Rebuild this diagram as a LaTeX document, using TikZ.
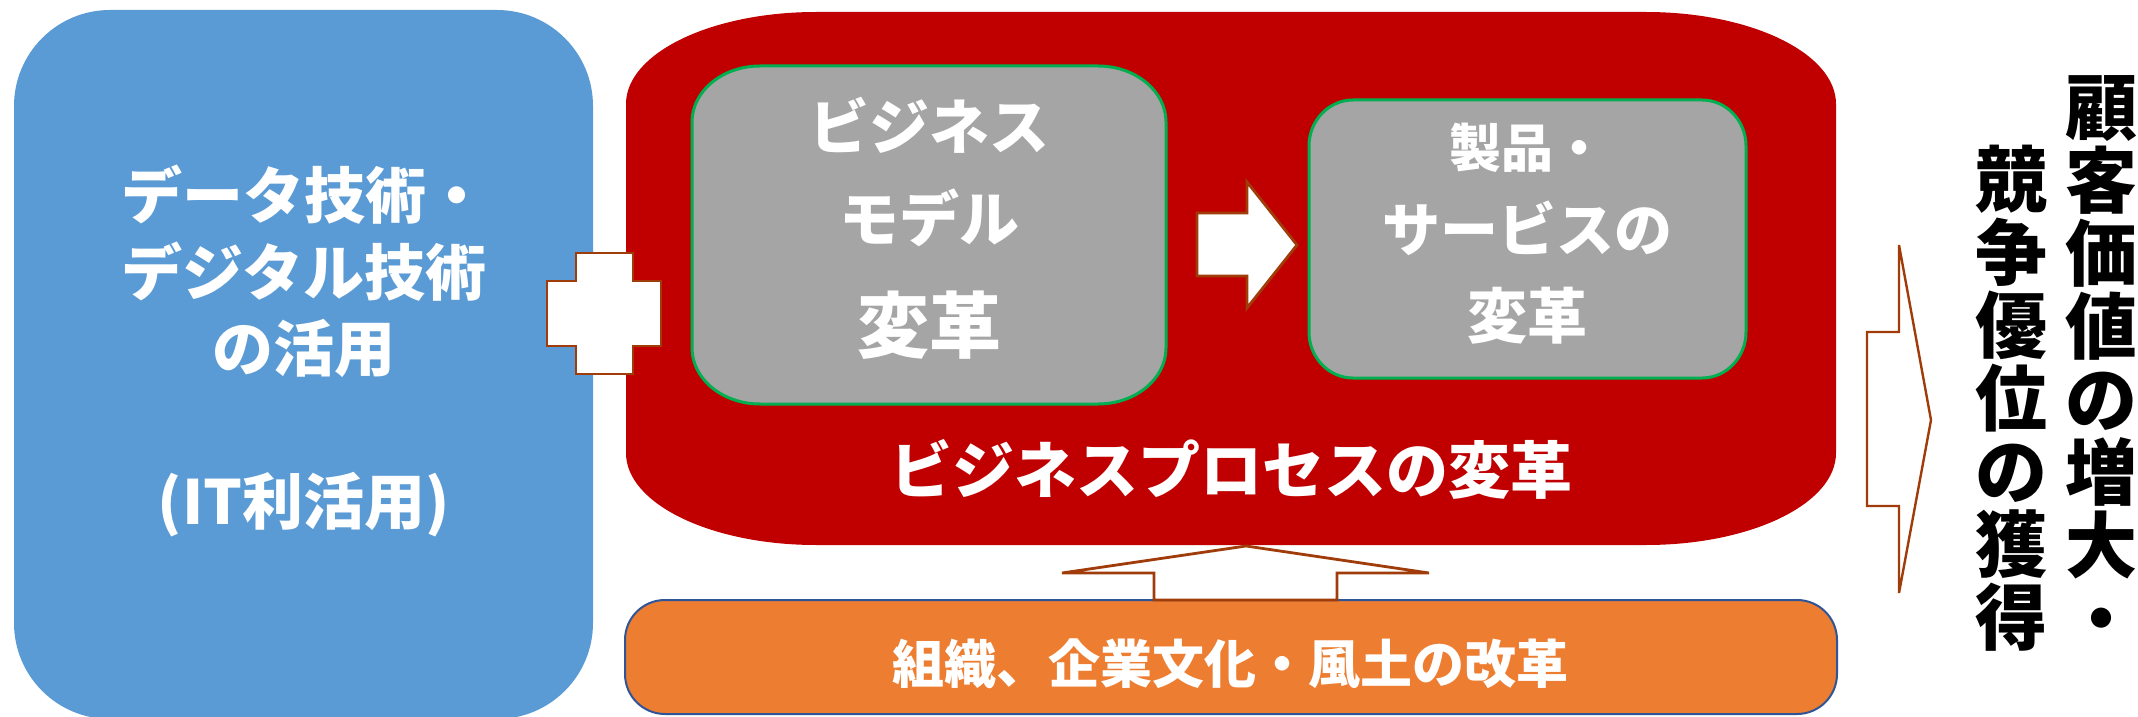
\documentclass[tikz,border=0pt]{standalone}
\usepackage{fontspec}
\newfontfamily\jpfont{Noto Sans CJK JP}
\newcommand{\jpbf}[2]{\jpfont\bfseries\fontsize{#1}{#2}\selectfont}
\definecolor{itblue}{HTML}{5B9BD5}
\definecolor{procred}{HTML}{C00000}
\definecolor{modelgray}{HTML}{A5A5A5}
\definecolor{edgegreen}{HTML}{00B050}
\definecolor{orgorange}{HTML}{ED7D31}
\definecolor{orgedge}{HTML}{2F5597}
\definecolor{arrowedge}{RGB}{160,60,10}
% panel with elliptic corners: style, left, top, right, bottom, rx, ry
\newcommand{\roundpanel}[7]{%
  \path[#1] ({#2+#6},#3) -- ({#4-#6},#3)
    arc[start angle=-90, end angle=0, x radius=#6, y radius=#7]
    -- (#4,{#5-#7})
    arc[start angle=0, end angle=90, x radius=#6, y radius=#7]
    -- ({#2+#6},#5)
    arc[start angle=90, end angle=180, x radius=#6, y radius=#7]
    -- (#2,{#3+#7})
    arc[start angle=180, end angle=270, x radius=#6, y radius=#7]
    -- cycle;}
\begin{document}
\begin{tikzpicture}[x=0.5pt, y=-0.5pt,
  blockarrow/.style={fill=white, draw=arrowedge, line width=1.4pt, line join=miter},
  graypanel/.style={fill=modelgray, draw=edgegreen, line width=1.5pt},
  wtext/.style={text=white, inner sep=0pt, align=center},
  vtext/.style={text=black, inner sep=0pt, align=center, font={\jpbf{36}{36.5}}}]
\useasboundingbox (0,0) rectangle (2138,717);
% panels
\roundpanel{fill=itblue}{14}{10}{593}{719}{96}{96}
\roundpanel{fill=procred}{626}{12}{1836}{545}{190}{92}
\roundpanel{graypanel}{692}{66}{1166}{404}{68}{56}
\roundpanel{graypanel}{1309}{100}{1746}{378}{44}{46}
\roundpanel{fill=orgorange, draw=orgedge, line width=1pt}{625}{600}{1837}{714}{40}{40}
% plus sign
\draw[blockarrow] (576,253) -- (633,253) -- (633,281) -- (661,281) -- (661,346)
  -- (633,346) -- (633,374) -- (576,374) -- (576,346) -- (547,346) -- (547,281)
  -- (576,281) -- cycle;
% arrow between the two gray panels
\draw[blockarrow] (1197,213) -- (1247,213) -- (1247,182) -- (1297,245)
  -- (1247,308) -- (1247,276) -- (1197,276) -- cycle;
% arrow up from the orange panel
\draw[blockarrow] (1154,600) -- (1154,573) -- (1062,573) -- (1246,546)
  -- (1429,573) -- (1337,573) -- (1337,600) -- cycle;
% arrow to the result
\draw[blockarrow, line width=1.2pt] (1867,332) -- (1899,332) -- (1899,245)
  -- (1931,420) -- (1899,593) -- (1899,506) -- (1867,506) -- cycle;
% texts
\node[wtext, font={\jpbf{30.5}{38.25}}] (ituse) at (304,351)
  {データ技術・\\デジタル技術\\の活用\\[38.25pt](IT利活用)};
\node[wtext, font={\jpbf{30}{30}}] (bmodelA) at (929,125) {ビジネス};
\node[wtext, font={\jpbf{30}{30}}] (bmodelB) at (929,218) {モデル};
\node[wtext, font={\jpbf{36}{36}}] (bmodelC) at (929,325) {変革};
\node[wtext, font={\jpbf{26}{26}}] (serviceA) at (1527,148) {製品・};
\node[wtext, font={\jpbf{29}{29}}] (serviceB) at (1527,228) {サービスの};
\node[wtext, font={\jpbf{30}{30}}] (serviceC) at (1527,316) {変革};
\node[wtext, font={\jpbf{31}{31}}] (process) at (1231,469) {ビジネスプロセスの変革};
\node[wtext, font={\jpbf{26}{26}}] (culture) at (1230,664) {組織、企業文化・風土の改革};
\node[vtext] (valueA) at (2101,360.5) {顧\\客\\価\\値\\の\\増\\大\\・};
\node[vtext] (valueB) at (2011,398) {競\\争\\優\\位\\の\\獲\\得};
\end{tikzpicture}
\end{document}
